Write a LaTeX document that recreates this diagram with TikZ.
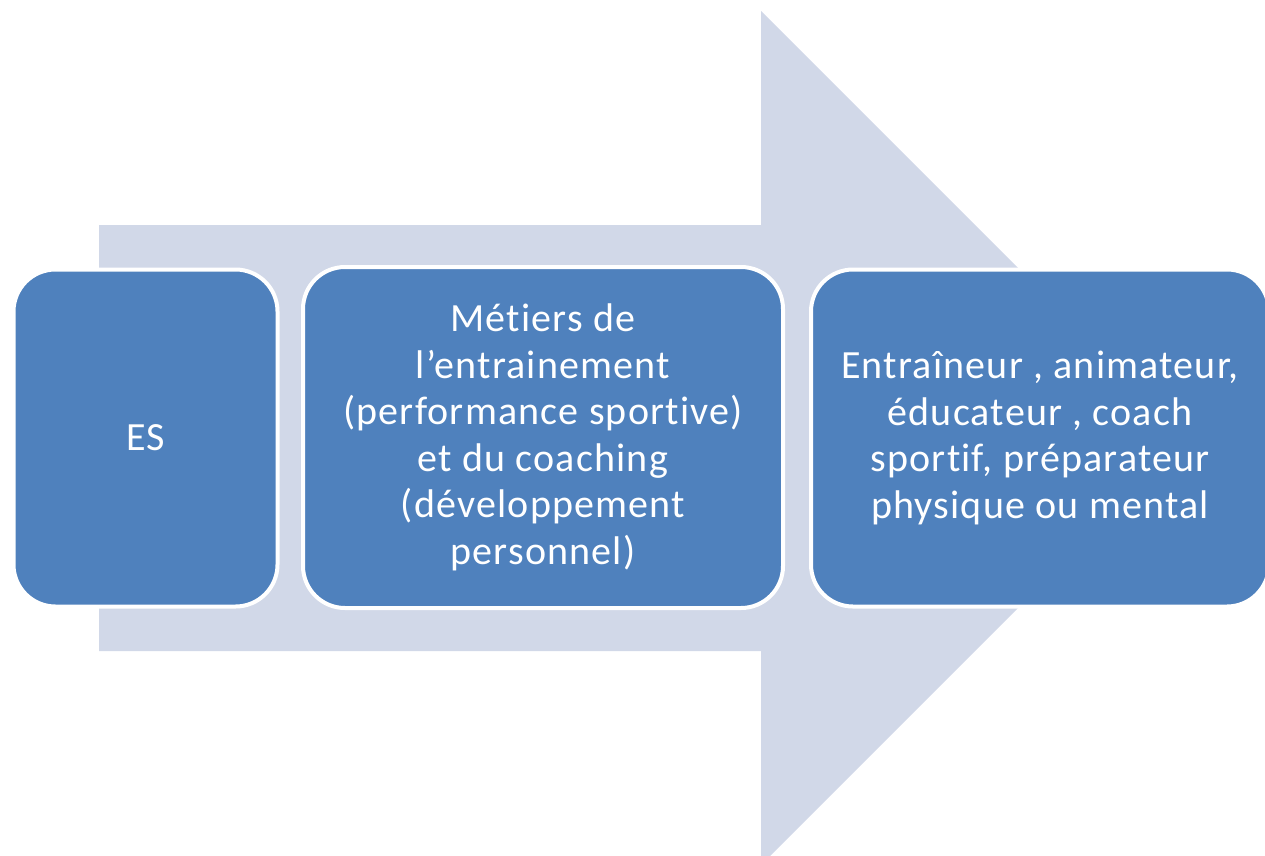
\documentclass[tikz,border=0pt]{standalone}
\usepackage{fontspec}
\setmainfont{Carlito}[Ligatures={NoCommon},LetterSpace=3]
\definecolor{boxblue}{HTML}{4F81BD}
\definecolor{arrowgrey}{HTML}{D1D8E8}
\begin{document}
\begin{tikzpicture}[x=1pt,y=-1pt,
  stagebox/.style={draw=white,line width=4pt,fill=boxblue,rounded corners=42pt,
    text=white,align=center,font=\fontsize{40}{46.5}\selectfont,inner sep=0pt}]
\useasboundingbox (0,0) rectangle (1265,855);
\clip (0,0) rectangle (1265,855);
\fill[arrowgrey] (99,225) -- (761,225) -- (761,11) -- (1188,438) -- (761,865) -- (761,651) -- (99,651) -- cycle;
\node[stagebox,minimum width=264pt,minimum height=337pt] (es) at (145.5,438) {ES};
\node[stagebox,minimum width=480pt,minimum height=341pt] (metiers) at (543,437.5) {Métiers de\\l’entrainement\\(performance sportive)\\et du coaching\\(développement\\personnel)};
\node[stagebox,minimum width=458pt,minimum height=337pt] (jobs) at (1040,438) {Entraîneur , animateur,\\éducateur , coach\\sportif, préparateur\\physique ou mental};
\end{tikzpicture}
\end{document}
